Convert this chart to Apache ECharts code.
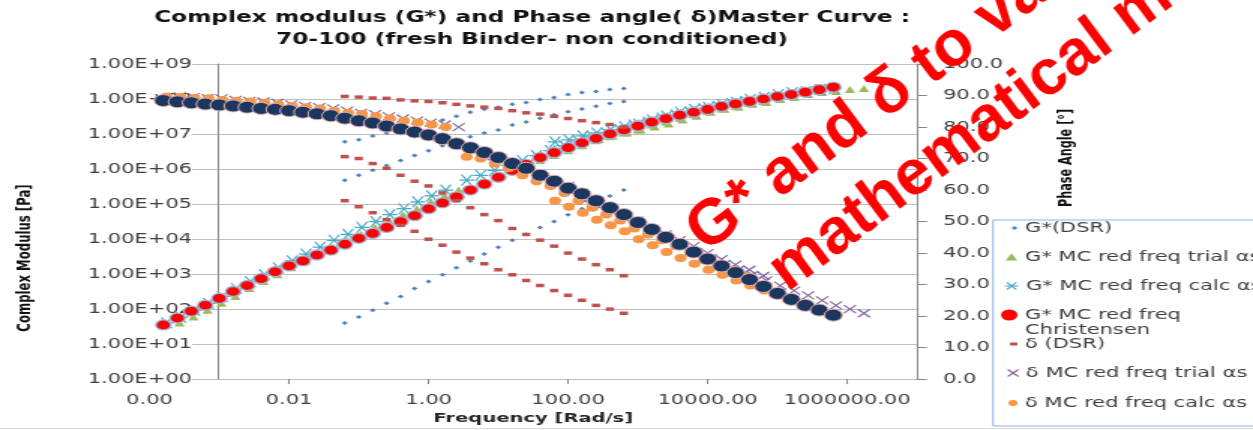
<!DOCTYPE html>
<html>
<head>
<meta charset="utf-8">
<script src="https://cdn.jsdelivr.net/npm/echarts@6/dist/echarts.min.js"></script>
<style>
  html, body { margin: 0; padding: 0; background: #fff; overflow: hidden; }
  #wrap { width: 1253px; height: 430px; overflow: hidden; position: relative; }
  /* the chart is laid out on a narrower canvas and widened horizontally */
  #chart { width: 835px; height: 430px; transform-origin: 0 0; }
</style>
</head>
<body>
<div id="wrap"><div id="chart"></div></div>
<script>
// ---- DSR frequency sweep (rad/s) ----
const dsrFreq = [0.0628, 0.0996, 0.158, 0.250, 0.396, 0.628, 0.996, 1.58, 2.50, 3.96,
  6.28, 9.96, 15.8, 25.0, 39.6, 62.8, 99.6, 158, 250, 396, 628];

// ---- G* (Pa) measured at three temperatures ----
const gDsrHot = [40.1, 59.1, 93.1, 146, 230, 387, 609, 958, 1507, 2371, 3731, 5871, 9239,
  13630, 21430, 31620, 49750, 73450, 115400, 170200, 251200];
const gDsrMid = [4.80e5, 6.64e5, 9.17e5, 1.27e6, 1.75e6, 2.42e6, 3.35e6, 4.63e6, 6.40e6, 8.30e6,
  1.07e7, 1.31e7, 1.80e7, 2.19e7, 2.84e7, 3.55e7, 4.30e7, 5.20e7, 6.20e7, 7.40e7, 8.54e7];
const gDsrCold = [6.00e6, 6.83e6, 8.85e6, 1.07e7, 1.31e7, 1.59e7, 1.92e7, 2.50e7, 3.23e7, 4.19e7,
  5.08e7, 5.78e7, 7.03e7, 8.00e7, 9.71e7, 1.11e8, 1.34e8, 1.53e8, 1.63e8, 1.86e8, 1.98e8];

// ---- phase angle (deg) at the same temperatures ----
const dDsrHot = [89.7, 89.5, 89.2, 89.1, 88.6, 88.3, 88.1, 87.7, 87.2, 86.7, 86.3, 85.9, 85.2,
  84.5, 84.1, 83.4, 82.7, 82.0, 81.4, 80.8, 80.0];
const dDsrMid = [70.6, 70.0, 68.4, 66.9, 64.7, 62.8, 61.3, 59.1, 56.6, 54.4, 52.2, 50.3, 47.8,
  45.9, 44.1, 42.2, 40.0, 38.1, 36.3, 34.7, 32.8];
const dDsrCold = [56.6, 54.7, 52.8, 50.6, 48.8, 46.9, 44.4, 42.5, 40.3, 38.4, 36.6, 34.7, 33.1,
  31.3, 29.7, 28.1, 26.6, 25.0, 23.4, 22.2, 20.9];

// ---- shift factors aT (hot, mid, cold) ----
const aTrial = [4.3e-3, 100, 2760];
const aCalc = [2.8e-3, 56, 1030];

// ---- Christensen model master curves ----
const masterFreq = [1.58e-4, 2.51e-4, 3.98e-4, 6.31e-4,
  1e-3, 1.58e-3, 2.51e-3, 3.98e-3, 6.31e-3,
  1e-2, 1.58e-2, 2.51e-2, 3.98e-2, 6.31e-2,
  0.1, 0.158, 0.251, 0.398, 0.631,
  1, 1.58, 2.51, 3.98, 6.31,
  10, 15.8, 25.1, 39.8, 63.1,
  100, 158, 251, 398, 631,
  1000, 1580, 2510, 3980, 6310,
  1e4, 1.58e4, 2.51e4, 3.98e4, 6.31e4,
  1e5, 1.58e5, 2.51e5, 3.98e5, 6.31e5];
const gChristensen = [35.2, 55.5, 87.3, 128.5, 202, 318, 470, 740, 1164, 1714, 2371, 3499, 4831,
  7129, 10520, 14520, 21430, 31620, 46670, 73450, 108100, 159600, 251200, 370700, 583400, 916200,
  1.352e6, 2.128e6, 2.944e6, 4.064e6, 5.623e6, 7.516e6, 1.007e7, 1.306e7, 1.690e7, 2.193e7,
  2.748e7, 3.444e7, 4.188e7, 5.082e7, 6.180e7, 7.261e7, 8.531e7, 1.002e8, 1.180e8, 1.343e8,
  1.578e8, 1.858e8, 2.183e8];
const dChristensen = [88.4, 88.0, 87.7, 87.3, 87.0, 86.7, 86.3, 85.9, 85.6, 85.2, 84.7, 84.2, 83.6,
  82.8, 82.0, 81.3, 80.3, 79.4, 78.4, 77.5, 76.3, 74.7, 73.4, 71.9, 70.3, 68.4, 66.9, 64.7, 62.8,
  60.6, 58.8, 56.6, 54.4, 52.2, 49.7, 47.5, 45.0, 42.8, 40.3, 38.1, 35.9, 33.8, 31.6, 29.4, 27.2,
  25.3, 23.4, 21.9, 20.3];

const names = ['G*(DSR)', 'G* MC red freq trial αs', 'G* MC red freq calc αs',
  'G* MC red freq Christensen', 'δ (DSR)', 'δ MC red freq trial αs', 'δ MC red freq calc αs',
  'δ MC red freq Christensen'];

// ---- helpers ----
const pairs = (xs, ys) => xs.map((x, i) => [x, ys[i]]);
const measured = rows => rows.flatMap(ys => pairs(dsrFreq, ys));
const shifted = (rows, factors) => rows.flatMap((ys, r) => dsrFreq.map((f, i) => [f * factors[r], ys[i]]));
const gRows = [gDsrHot, gDsrMid, gDsrCold];
const dRows = [dDsrHot, dDsrMid, dDsrCold];

// horizontal stretch of the drawing
const W = 1253, CW = 835, S = W / CW;
const cx = x => x / S;
document.getElementById('chart').style.transform = 'scaleX(' + S + ')';

const TICK_FONT = '"DejaVu Sans", Verdana, sans-serif';
const NARROW = '"Liberation Sans Narrow", "DejaVu Sans Condensed", sans-serif';
const RED_FONT = '"Liberation Sans", Arial, sans-serif';
const ASTERISK = 'path://M0 10L20 10M3 2L17 18M17 2L3 18';
const CROSS = 'path://M0 0L20 20M20 0L0 20';

const gridLeft = cx(149.5), gridRight = cx(917);
const leftAxisX = cx(218);

function sciLabel(v) {
  const e = Math.round(Math.log10(v));
  return '1.00E' + (e < 0 ? '-' : '+') + String(Math.abs(e)).padStart(2, '0');
}

const textLeft = cx(1025);
const legendRows = [
  { name: names[0], icon: 'diamond', w: 4, h: 4, y: 228, style: { color: '#4F81BD', borderWidth: 0, opacity: 1 } },
  { name: names[1], icon: 'triangle', w: 8, h: 7, y: 257, style: { color: '#9BBB59', borderWidth: 0, opacity: 1 } },
  { name: names[2], icon: ASTERISK, w: 9, h: 9, y: 286, style: { color: 'rgba(0,0,0,0)', borderColor: '#4BACC6', borderWidth: 1.2, opacity: 1 } },
  { name: names[3], icon: 'circle', w: 11, h: 11, y: 315, two: true, style: { color: '#FF0000', borderWidth: 0, opacity: 1 } },
  { name: names[4], icon: 'rect', w: 5, h: 3, y: 344, style: { color: '#C0504D', borderWidth: 0, opacity: 1 } },
  { name: names[5], icon: CROSS, w: 7, h: 7, y: 373, style: { color: 'rgba(0,0,0,0)', borderColor: '#8064A2', borderWidth: 1.1, opacity: 1 } },
  { name: names[6], icon: 'circle', w: 6, h: 6, y: 403, style: { color: '#F79646', borderWidth: 0, opacity: 1 } }
];
const LH = 15;
const legends = legendRows.map(r => ({
  data: [{ name: r.name, icon: r.icon }],
  orient: 'vertical',
  left: textLeft - 5 - r.w,
  top: r.two ? r.y - 1.5 * LH : r.y - LH / 2,
  itemWidth: r.w, itemHeight: r.h, itemGap: 0, padding: 0,
  selectedMode: false,
  itemStyle: r.style,
  formatter: r.two ? () => '\nG* MC red freq\nChristensen' : '{name}',
  textStyle: { fontFamily: TICK_FONT, fontSize: 14, color: '#404040', lineHeight: LH }
}));

const chart = echarts.init(document.getElementById('chart'), null, { renderer: 'canvas' });

chart.setOption({
  animation: false,
  backgroundColor: '#fff',
  grid: { left: gridLeft, right: CW - gridRight, top: 64, bottom: 46, containLabel: false },
  legend: legends,
  xAxis: {
    // labelled every two decades
    type: 'log', logBase: 100, min: 1e-4, max: 1e7,
    axisLine: { show: true, lineStyle: { color: '#BFBFBF', width: 1 } },
    axisTick: { show: true, length: 5, lineStyle: { color: '#868686' } },
    axisLabel: {
      margin: 14, fontFamily: TICK_FONT, fontSize: 14, color: '#404040', showMaxLabel: false,
      formatter: v => { const e = Math.round(Math.log10(v)); return e % 2 === 0 && e < 7 ? v.toFixed(2) : ''; }
    },
    splitLine: { show: false },
    name: 'Frequency [Rad/s]', nameLocation: 'middle', nameGap: 32,
    nameTextStyle: { fontFamily: TICK_FONT, fontWeight: 'bold', fontSize: 13, color: '#262626' }
  },
  yAxis: [{
    type: 'log', logBase: 10, min: 1, max: 1e9, position: 'left',
    offset: -(leftAxisX - gridLeft),
    axisLine: { show: true, lineStyle: { color: '#868686', width: 1 } },
    axisTick: { show: false },
    axisLabel: {
      margin: leftAxisX - cx(192), fontFamily: TICK_FONT, fontSize: 14, color: '#404040',
      backgroundColor: '#fff', formatter: sciLabel
    },
    splitLine: { show: true, lineStyle: { color: '#BFBFBF', width: 1.2 } }
  }, {
    type: 'value', min: 0, max: 100, interval: 10, position: 'right',
    axisLine: { show: true, lineStyle: { color: '#868686', width: 1 } },
    axisTick: { show: true, inside: false, length: cx(927) - cx(917), lineStyle: { color: '#868686' } },
    axisLabel: {
      margin: cx(943) - gridRight, fontFamily: TICK_FONT, fontSize: 14, color: '#404040',
      formatter: v => v.toFixed(1)
    },
    splitLine: { show: false }
  }],
  series: [
    { name: names[0], type: 'scatter', yAxisIndex: 0, data: measured(gRows),
      symbol: 'diamond', symbolSize: [4, 4], itemStyle: { color: '#4F81BD', opacity: 1 } },
    { name: names[1], type: 'scatter', yAxisIndex: 0, data: shifted(gRows, aTrial),
      symbol: 'triangle', symbolSize: [7, 7], itemStyle: { color: '#9BBB59', opacity: 1 } },
    { name: names[2], type: 'scatter', yAxisIndex: 0, data: shifted(gRows, aCalc),
      symbol: ASTERISK, symbolSize: [10, 11],
      itemStyle: { color: 'rgba(0,0,0,0)', borderColor: '#4BACC6', borderWidth: 1.2, opacity: 1 } },
    { name: names[3], type: 'scatter', yAxisIndex: 0, data: pairs(masterFreq, gChristensen),
      symbol: 'circle', symbolSize: 10,
      itemStyle: { color: '#FF0000', borderColor: '#9DB5DA', borderWidth: 1.3, opacity: 1 } },
    { name: names[4], type: 'scatter', yAxisIndex: 1, data: measured(dRows),
      symbol: 'rect', symbolSize: [5.5, 3.5], itemStyle: { color: '#C0504D', opacity: 1 } },
    { name: names[5], type: 'scatter', yAxisIndex: 1, data: shifted(dRows, aTrial),
      symbol: CROSS, symbolSize: [8, 8],
      itemStyle: { color: 'rgba(0,0,0,0)', borderColor: '#8064A2', borderWidth: 1.1, opacity: 1 } },
    { name: names[6], type: 'scatter', yAxisIndex: 1, data: shifted(dRows, aCalc),
      symbol: 'circle', symbolSize: 8, itemStyle: { color: '#F79646', opacity: 1 } },
    { name: names[7], type: 'scatter', yAxisIndex: 1, data: pairs(masterFreq, dChristensen),
      symbol: 'circle', symbolSize: 12,
      itemStyle: { color: '#1B365F', borderColor: '#E4ADAB', borderWidth: 1, opacity: 1 } }
  ],
  graphic: [
    // chart title
    { type: 'text', x: cx(532), y: 18, z: 50,
      style: { text: 'Complex modulus (G*) and Phase angle( δ)Master Curve :', align: 'center', verticalAlign: 'middle',
        fontFamily: TICK_FONT, fontWeight: 'bold', fontSize: 15.5, fill: '#111' } },
    { type: 'text', x: cx(532), y: 40, z: 50,
      style: { text: '70-100 (fresh Binder- non conditioned)', align: 'center', verticalAlign: 'middle',
        fontFamily: TICK_FONT, fontWeight: 'bold', fontSize: 15.5, fill: '#111' } },
    // axis titles
    { type: 'text', x: cx(25), y: 258, rotation: Math.PI / 2, z: 50,
      style: { text: 'Complex Modulus [Pa]', align: 'center', verticalAlign: 'middle',
        fontFamily: NARROW, fontWeight: 'bold', fontSize: 13, fill: '#111' } },
    { type: 'text', x: cx(1067), y: 158, rotation: Math.PI / 2, z: 50,
      style: { text: 'Phase Angle [°]', align: 'center', verticalAlign: 'middle',
        fontFamily: NARROW, fontWeight: 'bold', fontSize: 12.5, fill: '#111' } },
    // legend frame
    { type: 'rect', z: 40, shape: { x: cx(993), y: 220, width: 200, height: 206 },
      style: { fill: 'none', stroke: '#8EB4E3', lineWidth: 1 } },
    // lower border line
    { type: 'line', z: 40, shape: { x1: 0, y1: 428.5, x2: CW, y2: 428.5 },
      style: { stroke: '#D9D9D9', lineWidth: 1 } },
    // red annotation, drawn unstretched
    { type: 'group', x: cx(714), y: 265, scaleX: 1 / S, z: 100, children: [
      { type: 'text', rotation: 0.64, z: 100,
        style: { text: 'G* and δ to validate', x: 0, y: 0, verticalAlign: 'bottom',
          fontFamily: RED_FONT, fontWeight: 'bold', fontSize: 64, fill: '#FF0000' } }
    ] },
    { type: 'group', x: cx(796), y: 304, scaleX: 1 / S, z: 100, children: [
      { type: 'text', rotation: 0.64, z: 100,
        style: { text: 'mathematical model', x: 0, y: 0, verticalAlign: 'bottom',
          fontFamily: RED_FONT, fontWeight: 'bold', fontSize: 64, fill: '#FF0000' } }
    ] }
  ]
});
</script>
</body>
</html>
